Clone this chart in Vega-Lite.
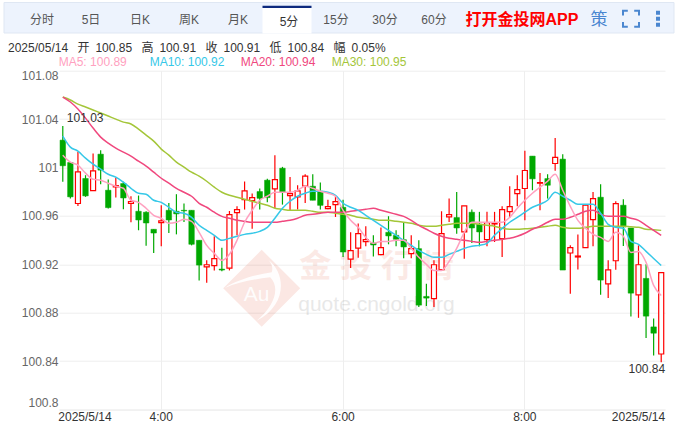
{
"$schema":"https://vega.github.io/schema/vega-lite/v6.json",
"width":606,"height":338.7,
"padding":{"left":59,"top":70.7,"right":17,"bottom":13.6},
"autosize":{"type":"none"},
"background":"white",
"config":{"view":{"stroke":null},"axis":{"title":null},"text":{"font":"Liberation Sans, Noto Sans CJK SC"}},
"resolve":{"scale":{"x":"independent","y":"independent","color":"independent"}},
"layer":[
{"data":{"values":[{"item":"toolbar"}]},"mark":{"type":"rect","fill":"#edf3fd","stroke":"#dfe7f3","strokeWidth":1},
 "encoding":{"x":{"field":"item","type":"nominal","axis":null,"scale":{"type":"band","range":[-55,615],"paddingInner":0,"paddingOuter":0}},
 "y":{"field":"item","type":"nominal","axis":null,"scale":{"type":"band","range":[-68.2,-37.7],"paddingInner":0,"paddingOuter":0}}}},
{"data":{"values":[{"tab":"分时"},{"tab":"5日"},{"tab":"日K"},{"tab":"周K"},{"tab":"月K"},{"tab":"5分"},{"tab":"15分"},{"tab":"30分"},{"tab":"60分"}]},
 "layer":[
 {"transform":[{"filter":"datum.tab=='5分'"}],"mark":{"type":"rect","fill":"#ffffff"},
  "encoding":{"y":{"datum":"tab","type":"nominal","axis":null,"scale":{"type":"band","range":[-63,-37.2],"paddingInner":0,"paddingOuter":0}}}},
 {"transform":[{"filter":"datum.tab=='5分'"}],"mark":{"type":"rect","fill":"#0d2a7e"},
  "encoding":{"y":{"datum":"top","type":"nominal","axis":null,"scale":{"type":"band","range":[-65,-62.6],"paddingInner":0,"paddingOuter":0}}}}
 ],
 "encoding":{"x":{"field":"tab","type":"nominal","sort":null,"axis":null,"scale":{"type":"band","domain":["分时","5日","日K","周K","月K","5分","15分","30分","60分"],"range":[-41.5,399.5],"paddingInner":0,"paddingOuter":0}}},
 "resolve":{"scale":{"y":"independent"}}},
{"data":{"values":[{"tab":"分时"},{"tab":"5日"},{"tab":"日K"},{"tab":"周K"},{"tab":"月K"},{"tab":"15分"},{"tab":"30分"},{"tab":"60分"}]},
 "mark":{"type":"text","fontSize":12,"color":"#555555"},
 "encoding":{"text":{"field":"tab"},"x":{"field":"tab","type":"nominal","sort":null,"axis":null,"scale":{"type":"band","domain":["分时","5日","日K","周K","月K","5分","15分","30分","60分"],"range":[-41.5,399.5],"paddingInner":0,"paddingOuter":0}},
 "y":{"datum":"tab","type":"nominal","axis":null,"scale":{"type":"band","range":[-65.7,-35.7],"paddingInner":0,"paddingOuter":0}}}},
{"data":{"values":[{"tab":"5分"}]},"mark":{"type":"text","fontSize":12,"color":"#333333"},
 "encoding":{"text":{"field":"tab"},"x":{"field":"tab","type":"nominal","axis":null,"scale":{"type":"band","range":[205.5,254.5],"paddingInner":0,"paddingOuter":0}},
 "y":{"field":"tab","type":"nominal","axis":null,"scale":{"type":"band","range":[-64,-34],"paddingInner":0,"paddingOuter":0}}}},
{"data":{"values":[{"item":"打开金投网APP"}]},"mark":{"type":"text","fontSize":16,"fontWeight":"bold","color":"#ff0000"},
 "encoding":{"text":{"field":"item"},"x":{"field":"item","type":"nominal","axis":null,"scale":{"type":"band","range":[407,519],"paddingInner":0,"paddingOuter":0}},
 "y":{"field":"item","type":"nominal","axis":null,"scale":{"type":"band","range":[-66,-36],"paddingInner":0,"paddingOuter":0}}}},
{"data":{"values":[{"item":"策"}]},"mark":{"type":"text","fontSize":17,"color":"#4a86d0"},
 "encoding":{"text":{"field":"item"},"x":{"field":"item","type":"nominal","axis":null,"scale":{"type":"band","range":[530,550],"paddingInner":0,"paddingOuter":0}},
 "y":{"field":"item","type":"nominal","axis":null,"scale":{"type":"band","range":[-66,-36],"paddingInner":0,"paddingOuter":0}}}},
{"data":{"values":[{"item":"fullscreen"}]},"mark":{"type":"point","filled":false,"size":256,"strokeWidth":2,"color":"#4a86d0","opacity":1,"shape":"M-1,-0.4V-1H-0.4M0.4,-1H1V-0.4M1,0.4V1H0.4M-0.4,1H-1V0.4"},
 "encoding":{"x":{"field":"item","type":"nominal","axis":null,"scale":{"type":"band","range":[562,582],"paddingInner":0,"paddingOuter":0}},
 "y":{"field":"item","type":"nominal","axis":null,"scale":{"type":"band","range":[-66,-38],"paddingInner":0,"paddingOuter":0}}}},
{"data":{"values":[{"item":"more"}]},"mark":{"type":"point","filled":true,"opacity":1,"size":256,"color":"#4a86d0","shape":"M-0.25,-1H0.25V-0.5H-0.25ZM-0.25,-0.25H0.25V0.25H-0.25ZM-0.25,0.5H0.25V1H-0.25Z"},
 "encoding":{"x":{"field":"item","type":"nominal","axis":null,"scale":{"type":"band","range":[589,609],"paddingInner":0,"paddingOuter":0}},
 "y":{"field":"item","type":"nominal","axis":null,"scale":{"type":"band","range":[-66,-38],"paddingInner":0,"paddingOuter":0}}}},
{"data":{"values":[{"item":"2025/05/14\u2002\u00a0开\u2002100.85\u2002\u00a0高\u2002100.91\u2002\u00a0收\u2002100.91\u2002\u00a0低\u2002100.84\u2002\u00a0幅\u20020.05%"}]},"mark":{"type":"text","fontSize":12,"align":"left","color":"#333333"},
 "encoding":{"text":{"field":"item"},"x":{"field":"item","type":"nominal","bandPosition":0,"axis":null,"scale":{"type":"band","range":[-51,-1],"paddingInner":0,"paddingOuter":0}},
 "y":{"field":"item","type":"nominal","axis":null,"scale":{"type":"band","range":[-29.7,-15.7],"paddingInner":0,"paddingOuter":0}}}},
{"data":{"values":[{"name":"MA5","label":"MA5: 100.89"},{"name":"MA10","label":"MA10: 100.92"},{"name":"MA20","label":"MA20: 100.94"},{"name":"MA30","label":"MA30: 100.95"}]},"mark":{"type":"text","fontSize":12,"align":"left"},
 "encoding":{"text":{"field":"label"},"x":{"field":"name","type":"nominal","sort":null,"bandPosition":0,"axis":null,"scale":{"type":"band","range":[-0.3,363.7],"paddingInner":0,"paddingOuter":0}},
 "y":{"datum":"row","type":"nominal","axis":null,"scale":{"type":"band","range":[-15.7,-1.7],"paddingInner":0,"paddingOuter":0}},
 "color":{"field":"name","type":"nominal","legend":null,"scale":{"domain":["MA5","MA10","MA20","MA30"],"range":["#ffa1c0","#36c8e8","#f0487e","#a4c639"]}}}},
{"data":{"values":[{"item":"logo"}]},
 "encoding":{"x":{"field":"item","type":"nominal","axis":null,"scale":{"type":"band","range":[197.7,207.7],"paddingInner":0,"paddingOuter":0}},"y":{"field":"item","type":"nominal","axis":null,"scale":{"type":"band","range":[212.6,222.6],"paddingInner":0,"paddingOuter":0}}},
 "layer":[
 {"mark":{"type":"point","filled":true,"size":5929,"color":"#e25c40","opacity":0.15,"shape":"M0,-1L1,0L0,1L-1,0Z"}},
 {"mark":{"type":"point","filled":true,"size":5929,"color":"#ffffff","opacity":0.9,"shape":"M0.17,-0.74C0.65,-0.37,0.65,0.45,-0.13,0.84C0.35,0.45,0.48,-0.03,0.22,-0.29C-0.17,-0.24,-0.61,-0.16,-0.96,-0.01C-0.61,-0.24,-0.09,-0.37,0.26,-0.42C0.3,-0.53,0.26,-0.65,0.17,-0.74Z"}},
 {"mark":{"type":"text","text":"Au","fontSize":21,"color":"#ffffff","dx":-5,"dy":7,"opacity":0.9}}
 ]},
{"data":{"values":[{"item":"金 投 行 情"}]},"mark":{"type":"text","fontSize":32,"fontWeight":"bold","color":"#e25c40","opacity":0.13},
 "encoding":{"text":{"field":"item"},"x":{"field":"item","type":"nominal","axis":null,"scale":{"type":"band","range":[239,396],"paddingInner":0,"paddingOuter":0}},
 "y":{"field":"item","type":"nominal","axis":null,"scale":{"type":"band","range":[181,211],"paddingInner":0,"paddingOuter":0}}}},
{"data":{"values":[{"item":"quote.cngold.org"}]},"mark":{"type":"text","fontSize":21,"color":"#999999","opacity":0.22},
 "encoding":{"text":{"field":"item"},"x":{"field":"item","type":"nominal","axis":null,"scale":{"type":"band","range":[239,396],"paddingInner":0,"paddingOuter":0}},
 "y":{"field":"item","type":"nominal","axis":null,"scale":{"type":"band","range":[224,244],"paddingInner":0,"paddingOuter":0}}}},
{"data":{"values":[
{"t":"2:55","o":101.0226,"h":101.0342,"l":100.9881,"c":101.0014,"ma5":101.0102,"ma10":101.0259,"ma20":101.0582,"ma30":101.0582},
{"t":"3:00","o":101.0041,"h":101.0041,"l":100.9743,"c":100.9757,"ma5":101.0044,"ma10":101.0168,"ma20":101.0541,"ma30":101.0558},
{"t":"3:05","o":100.9702,"h":101.013,"l":100.9682,"c":100.9964,"ma5":101.0019,"ma10":101.0135,"ma20":101.0483,"ma30":101.0524},
{"t":"3:10","o":100.9909,"h":100.9936,"l":100.9757,"c":100.9765,"ma5":100.9953,"ma10":101.0077,"ma20":101.0408,"ma30":101.05},
{"t":"3:15","o":100.9809,"h":101.0116,"l":100.9809,"c":100.9972,"ma5":100.9903,"ma10":101.0027,"ma20":101.0326,"ma30":101.0475},
{"t":"3:20","o":101.011,"h":101.0143,"l":100.9862,"c":100.9978,"ma5":100.9895,"ma10":100.9986,"ma20":101.0251,"ma30":101.045},
{"t":"3:25","o":100.9812,"h":100.99,"l":100.966,"c":100.9668,"ma5":100.987,"ma10":100.9944,"ma20":101.0201,"ma30":101.0425},
{"t":"3:30","o":100.984,"h":100.9917,"l":100.9751,"c":100.9851,"ma5":100.9845,"ma10":100.992,"ma20":101.016,"ma30":101.04},
{"t":"3:35","o":100.9867,"h":100.9881,"l":100.9655,"c":100.9748,"ma5":100.9828,"ma10":100.9878,"ma20":101.0127,"ma30":101.0375},
{"t":"3:40","o":100.9702,"h":100.9762,"l":100.9547,"c":100.9718,"ma5":100.9729,"ma10":100.9828,"ma20":101.0094,"ma30":101.0359},
{"t":"3:45","o":100.9638,"h":100.9768,"l":100.9481,"c":100.9566,"ma5":100.9712,"ma10":100.9787,"ma20":101.0052,"ma30":101.0317},
{"t":"3:50","o":100.963,"h":100.9638,"l":100.9353,"c":100.9541,"ma5":100.9663,"ma10":100.9779,"ma20":101.0011,"ma30":101.0268},
{"t":"3:55","o":100.9489,"h":100.9489,"l":100.9293,"c":100.9458,"ma5":100.9605,"ma10":100.9729,"ma20":100.9961,"ma30":101.0218},
{"t":"4:00","o":100.9544,"h":100.9688,"l":100.9348,"c":100.9558,"ma5":100.958,"ma10":100.9712,"ma20":100.9911,"ma30":101.0152},
{"t":"4:05","o":100.9646,"h":100.9707,"l":100.9458,"c":100.9566,"ma5":100.9538,"ma10":100.9671,"ma20":100.987,"ma30":101.0102},
{"t":"4:10","o":100.9638,"h":100.9779,"l":100.9447,"c":100.9616,"ma5":100.9547,"ma10":100.963,"ma20":100.9828,"ma30":101.0044},
{"t":"4:15","o":100.9646,"h":100.9702,"l":100.955,"c":100.9641,"ma5":100.9572,"ma10":100.9621,"ma20":100.9795,"ma30":101.0003},
{"t":"4:20","o":100.9646,"h":100.9646,"l":100.9356,"c":100.9365,"ma5":100.9555,"ma10":100.9588,"ma20":100.9762,"ma30":100.9961},
{"t":"4:25","o":100.9398,"h":100.9398,"l":100.9066,"c":100.9193,"ma5":100.9464,"ma10":100.9522,"ma20":100.9704,"ma30":100.9928},
{"t":"4:30","o":100.9179,"h":100.9232,"l":100.9047,"c":100.9196,"ma5":100.9356,"ma10":100.948,"ma20":100.9671,"ma30":100.9886},
{"t":"4:35","o":100.9188,"h":100.9431,"l":100.9149,"c":100.9246,"ma5":100.929,"ma10":100.9439,"ma20":100.963,"ma30":100.9837},
{"t":"4:40","o":100.916,"h":100.9337,"l":100.9143,"c":100.9152,"ma5":100.9232,"ma10":100.9398,"ma20":100.9596,"ma30":100.9795},
{"t":"4:45","o":100.9168,"h":100.964,"l":100.9149,"c":100.961,"ma5":100.9282,"ma10":100.9414,"ma20":100.958,"ma30":100.977},
{"t":"4:50","o":100.9627,"h":100.9679,"l":100.9439,"c":100.9652,"ma5":100.9398,"ma10":100.9431,"ma20":100.9563,"ma30":100.9754},
{"t":"4:55","o":100.9734,"h":100.9884,"l":100.9652,"c":100.9806,"ma5":100.9547,"ma10":100.9447,"ma20":100.9555,"ma30":100.9737},
{"t":"5:00","o":100.9726,"h":100.9784,"l":100.9494,"c":100.9751,"ma5":100.9646,"ma10":100.9456,"ma20":100.9547,"ma30":100.9721},
{"t":"5:05","o":100.9801,"h":100.9826,"l":100.9652,"c":100.9745,"ma5":100.9729,"ma10":100.9472,"ma20":100.9547,"ma30":100.9704},
{"t":"5:10","o":100.9895,"h":100.9906,"l":100.9712,"c":100.9751,"ma5":100.9762,"ma10":100.9505,"ma20":100.9547,"ma30":100.9688},
{"t":"5:15","o":100.9823,"h":101.0102,"l":100.9665,"c":100.99,"ma5":100.9795,"ma10":100.958,"ma20":100.9547,"ma30":100.9663},
{"t":"5:20","o":100.9994,"h":101.0005,"l":100.9693,"c":100.9795,"ma5":100.9795,"ma10":100.9663,"ma20":100.9555,"ma30":100.9654},
{"t":"5:25","o":100.9768,"h":100.9922,"l":100.9646,"c":100.9784,"ma5":100.9795,"ma10":100.9721,"ma20":100.9563,"ma30":100.9646},
{"t":"5:30","o":100.9756,"h":100.9853,"l":100.9652,"c":100.9806,"ma5":100.9812,"ma10":100.9762,"ma20":100.958,"ma30":100.9646},
{"t":"5:35","o":100.9845,"h":100.9944,"l":100.9707,"c":100.9928,"ma5":100.9845,"ma10":100.9787,"ma20":100.9605,"ma30":100.9646},
{"t":"5:40","o":100.9845,"h":100.9944,"l":100.9729,"c":100.9729,"ma5":100.9828,"ma10":100.9804,"ma20":100.9613,"ma30":100.9638},
{"t":"5:45","o":100.9803,"h":100.9875,"l":100.9652,"c":100.9687,"ma5":100.9804,"ma10":100.9804,"ma20":100.9621,"ma30":100.963},
{"t":"5:50","o":100.966,"h":100.9734,"l":100.9654,"c":100.9676,"ma5":100.9787,"ma10":100.9795,"ma20":100.963,"ma30":100.963},
{"t":"5:55","o":100.9693,"h":100.9762,"l":100.9591,"c":100.9718,"ma5":100.9762,"ma10":100.977,"ma20":100.963,"ma30":100.9621},
{"t":"6:00","o":100.9671,"h":100.9734,"l":100.9259,"c":100.9301,"ma5":100.9646,"ma10":100.9704,"ma20":100.963,"ma30":100.9613},
{"t":"6:05","o":100.9243,"h":100.9464,"l":100.9168,"c":100.9312,"ma5":100.9563,"ma10":100.9671,"ma20":100.9638,"ma30":100.9605},
{"t":"6:10","o":100.9334,"h":100.9536,"l":100.9254,"c":100.9453,"ma5":100.9505,"ma10":100.9646,"ma20":100.9646,"ma30":100.9588},
{"t":"6:15","o":100.9387,"h":100.9514,"l":100.9348,"c":100.9403,"ma5":100.9422,"ma10":100.9605,"ma20":100.9654,"ma30":100.958},
{"t":"6:20","o":100.9376,"h":100.9439,"l":100.9265,"c":100.9359,"ma5":100.9373,"ma10":100.9563,"ma20":100.9663,"ma30":100.9572},
{"t":"6:25","o":100.9279,"h":100.9503,"l":100.9274,"c":100.9337,"ma5":100.9389,"ma10":100.9522,"ma20":100.9646,"ma30":100.9563},
{"t":"6:30","o":100.9464,"h":100.9597,"l":100.9365,"c":100.9434,"ma5":100.9389,"ma10":100.948,"ma20":100.963,"ma30":100.9563},
{"t":"6:35","o":100.9439,"h":100.9481,"l":100.9348,"c":100.9406,"ma5":100.9398,"ma10":100.9439,"ma20":100.9613,"ma30":100.9555},
{"t":"6:40","o":100.9403,"h":100.9544,"l":100.9249,"c":100.9343,"ma5":100.9398,"ma10":100.9398,"ma20":100.9596,"ma30":100.9547},
{"t":"6:45","o":100.9288,"h":100.9439,"l":100.9249,"c":100.9329,"ma5":100.9331,"ma10":100.9356,"ma20":100.9563,"ma30":100.9538},
{"t":"6:50","o":100.9329,"h":100.9398,"l":100.8846,"c":100.8862,"ma5":100.9257,"ma10":100.9315,"ma20":100.9522,"ma30":100.9522},
{"t":"6:55","o":100.8934,"h":100.9039,"l":100.8854,"c":100.892,"ma5":100.9199,"ma10":100.9282,"ma20":100.9489,"ma30":100.9514},
{"t":"7:00","o":100.8915,"h":100.9232,"l":100.8846,"c":100.9196,"ma5":100.9149,"ma10":100.9257,"ma20":100.9456,"ma30":100.9514},
{"t":"7:05","o":100.9155,"h":100.9638,"l":100.9149,"c":100.9453,"ma5":100.9149,"ma10":100.9257,"ma20":100.9431,"ma30":100.9522},
{"t":"7:10","o":100.9591,"h":100.9743,"l":100.955,"c":100.9611,"ma5":100.9224,"ma10":100.9282,"ma20":100.9414,"ma30":100.953},
{"t":"7:15","o":100.9586,"h":100.9798,"l":100.9453,"c":100.95,"ma5":100.9331,"ma10":100.9306,"ma20":100.9406,"ma30":100.9538},
{"t":"7:20","o":100.9467,"h":100.9682,"l":100.9246,"c":100.9682,"ma5":100.9464,"ma10":100.9331,"ma20":100.9398,"ma30":100.9538},
{"t":"7:25","o":100.963,"h":100.9652,"l":100.9376,"c":100.95,"ma5":100.9547,"ma10":100.9348,"ma20":100.9389,"ma30":100.9538},
{"t":"7:30","o":100.9531,"h":100.9633,"l":100.9348,"c":100.9467,"ma5":100.9547,"ma10":100.9356,"ma20":100.9381,"ma30":100.953},
{"t":"7:35","o":100.9403,"h":100.9633,"l":100.9348,"c":100.9544,"ma5":100.9547,"ma10":100.9373,"ma20":100.9389,"ma30":100.9522},
{"t":"7:40","o":100.9533,"h":100.9633,"l":100.9384,"c":100.9539,"ma5":100.9547,"ma10":100.9439,"ma20":100.9398,"ma30":100.9514},
{"t":"7:45","o":100.9412,"h":100.968,"l":100.926,"c":100.9652,"ma5":100.9547,"ma10":100.9497,"ma20":100.9406,"ma30":100.9497},
{"t":"7:50","o":100.9635,"h":100.9845,"l":100.9585,"c":100.9677,"ma5":100.9588,"ma10":100.9547,"ma20":100.9414,"ma30":100.9489},
{"t":"7:55","o":100.9784,"h":100.9936,"l":100.9679,"c":100.9817,"ma5":100.9663,"ma10":100.9588,"ma20":100.9431,"ma30":100.9489},
{"t":"8:00","o":100.9826,"h":101.0138,"l":100.9563,"c":100.9975,"ma5":100.9729,"ma10":100.963,"ma20":100.9456,"ma30":100.9493},
{"t":"8:05","o":101.0094,"h":101.0094,"l":100.9812,"c":100.9906,"ma5":100.9787,"ma10":100.9671,"ma20":100.9489,"ma30":100.9497},
{"t":"8:10","o":100.987,"h":100.9955,"l":100.9646,"c":100.9875,"ma5":100.9837,"ma10":100.9696,"ma20":100.9514,"ma30":100.9505},
{"t":"8:15","o":100.9908,"h":100.9944,"l":100.9743,"c":100.9853,"ma5":100.9886,"ma10":100.9729,"ma20":100.9547,"ma30":100.9514},
{"t":"8:20","o":101.0033,"h":101.0243,"l":100.9972,"c":101.0083,"ma5":100.9944,"ma10":100.9795,"ma20":100.9572,"ma30":100.9522},
{"t":"8:25","o":101.0069,"h":101.011,"l":100.9152,"c":100.9152,"ma5":100.9812,"ma10":100.9762,"ma20":100.9572,"ma30":100.9505},
{"t":"8:30","o":100.9293,"h":100.9356,"l":100.8956,"c":100.9337,"ma5":100.9679,"ma10":100.9729,"ma20":100.9588,"ma30":100.9497},
{"t":"8:35","o":100.926,"h":100.9445,"l":100.9157,"c":100.9268,"ma5":100.9563,"ma10":100.9696,"ma20":100.9613,"ma30":100.9497},
{"t":"8:40","o":100.9337,"h":100.9696,"l":100.9337,"c":100.9688,"ma5":100.9497,"ma10":100.9696,"ma20":100.9638,"ma30":100.9505},
{"t":"8:45","o":100.9569,"h":100.9798,"l":100.9348,"c":100.9743,"ma5":100.9447,"ma10":100.9696,"ma20":100.9646,"ma30":100.9514},
{"t":"8:50","o":100.9754,"h":100.9862,"l":100.8947,"c":100.9069,"ma5":100.9422,"ma10":100.9621,"ma20":100.9613,"ma30":100.9514},
{"t":"8:55","o":100.9038,"h":100.9232,"l":100.892,"c":100.9154,"ma5":100.9389,"ma10":100.953,"ma20":100.9596,"ma30":100.9514},
{"t":"9:00","o":100.9229,"h":100.9721,"l":100.9154,"c":100.9701,"ma5":100.9464,"ma10":100.9505,"ma20":100.9596,"ma30":100.9514},
{"t":"9:05","o":100.9688,"h":100.9737,"l":100.9351,"c":100.9508,"ma5":100.9431,"ma10":100.9497,"ma20":100.9596,"ma30":100.9514},
{"t":"9:10","o":100.95,"h":100.95,"l":100.8768,"c":100.8961,"ma5":100.9298,"ma10":100.9389,"ma20":100.958,"ma30":100.9509},
{"t":"9:15","o":100.8947,"h":100.9356,"l":100.8757,"c":100.9196,"ma5":100.9306,"ma10":100.9365,"ma20":100.9563,"ma30":100.9505},
{"t":"9:20","o":100.9083,"h":100.9199,"l":100.8591,"c":100.8771,"ma5":100.9215,"ma10":100.9306,"ma20":100.9522,"ma30":100.9489},
{"t":"9:25","o":100.8682,"h":100.8751,"l":100.8445,"c":100.863,"ma5":100.9025,"ma10":100.9248,"ma20":100.948,"ma30":100.9485},
{"t":"9:30","o":100.8458,"h":100.913,"l":100.8389,"c":100.913,"ma5":100.8942,"ma10":100.919,"ma20":100.9439,"ma30":100.948}
]},
"encoding":{"x":{"field":"t","type":"ordinal","sort":null,"scale":{"type":"band","paddingInner":0,"paddingOuter":0,"domain":["2:55","3:00","3:05","3:10","3:15","3:20","3:25","3:30","3:35","3:40","3:45","3:50","3:55","4:00","4:05","4:10","4:15","4:20","4:25","4:30","4:35","4:40","4:45","4:50","4:55","5:00","5:05","5:10","5:15","5:20","5:25","5:30","5:35","5:40","5:45","5:50","5:55","6:00","6:05","6:10","6:15","6:20","6:25","6:30","6:35","6:40","6:45","6:50","6:55","7:00","7:05","7:10","7:15","7:20","7:25","7:30","7:35","7:40","7:45","7:50","7:55","8:00","8:05","8:10","8:15","8:20","8:25","8:30","8:35","8:40","8:45","8:50","8:55","9:00","9:05","9:10","9:15","9:20","9:25","9:30"]},
 "axis":{"values":["4:00","6:00","8:00"],"grid":true,"gridColor":"#eeeeee","domain":true,"domainColor":"#eeeeee","ticks":false,"labelAngle":0,"labelFont":"Liberation Sans","labelFontSize":12,"labelColor":"#333333","labelPadding":2}}},
"layer":[
{"transform":[{"filter":"datum.c<datum.o"}],"mark":{"type":"rule","color":"#00a800","strokeWidth":1.2},"encoding":{"y":{"field":"l","type":"quantitative","scale":{"domain":[100.8,101.08],"nice":false,"zero":false},
 "axis":{"values":[100.8,100.84,100.88,100.92,100.96,101,101.04,101.08],"format":".2~f","grid":true,"gridColor":"#eeeeee","domain":false,"ticks":false,"labelFont":"Liberation Sans","labelFontSize":12,"labelColor":"#666666","labelPadding":1,"labelFlush":true}},"y2":{"field":"h"}}},
{"transform":[{"filter":"datum.c<datum.o"}],"mark":{"type":"bar","width":5.5,"color":"#00a800","stroke":"#00a800","strokeWidth":0.5},"encoding":{"y":{"field":"o","type":"quantitative"},"y2":{"field":"c"}}},
{"transform":[{"filter":"datum.c>=datum.o"}],"mark":{"type":"rule","color":"#ff0000","strokeWidth":1.2},"encoding":{"y":{"field":"l","type":"quantitative"},"y2":{"field":"h"}}},
{"transform":[{"filter":"datum.c>=datum.o"}],"mark":{"type":"bar","width":5,"fill":"#ffffff","stroke":"#ff0000","strokeWidth":1.2},"encoding":{"y":{"field":"o","type":"quantitative"},"y2":{"field":"c"}}},
{"mark":{"type":"line","color":"#a4c639","strokeWidth":1.5,"interpolate":"monotone"},"encoding":{"y":{"field":"ma30","type":"quantitative"}}},
{"mark":{"type":"line","color":"#f0487e","strokeWidth":1.5,"interpolate":"monotone"},"encoding":{"y":{"field":"ma20","type":"quantitative"}}},
{"mark":{"type":"line","color":"#36c8e8","strokeWidth":1.5,"interpolate":"monotone"},"encoding":{"y":{"field":"ma10","type":"quantitative"}}},
{"mark":{"type":"line","color":"#ffa1c0","strokeWidth":1.5,"interpolate":"monotone"},"encoding":{"y":{"field":"ma5","type":"quantitative"}}},
{"transform":[{"filter":"datum.t=='2:55'"}],"mark":{"type":"text","align":"left","dx":4,"dy":-8,"fontSize":12,"color":"#333333"},"encoding":{"y":{"field":"h","type":"quantitative"},"text":{"field":"h","format":".2f"}}},
{"transform":[{"filter":"datum.t=='9:30'"}],"mark":{"type":"text","align":"right","dx":4,"dy":7,"fontSize":12,"color":"#333333"},"encoding":{"y":{"field":"l","type":"quantitative"},"text":{"field":"l","format":".2f"}}},
{"transform":[{"filter":"datum.t=='2:55'"}],"mark":{"type":"text","align":"left","dx":-4.5,"dy":8,"baseline":"middle","fontSize":12,"color":"#333333"},"encoding":{"y":{"datum":100.8,"type":"quantitative"},"text":{"value":"2025/5/14"}}},
{"transform":[{"filter":"datum.t=='9:30'"}],"mark":{"type":"text","align":"right","dx":4,"dy":8,"baseline":"middle","fontSize":12,"color":"#333333"},"encoding":{"y":{"datum":100.8,"type":"quantitative"},"text":{"value":"2025/5/14"}}}
]}
]
}
